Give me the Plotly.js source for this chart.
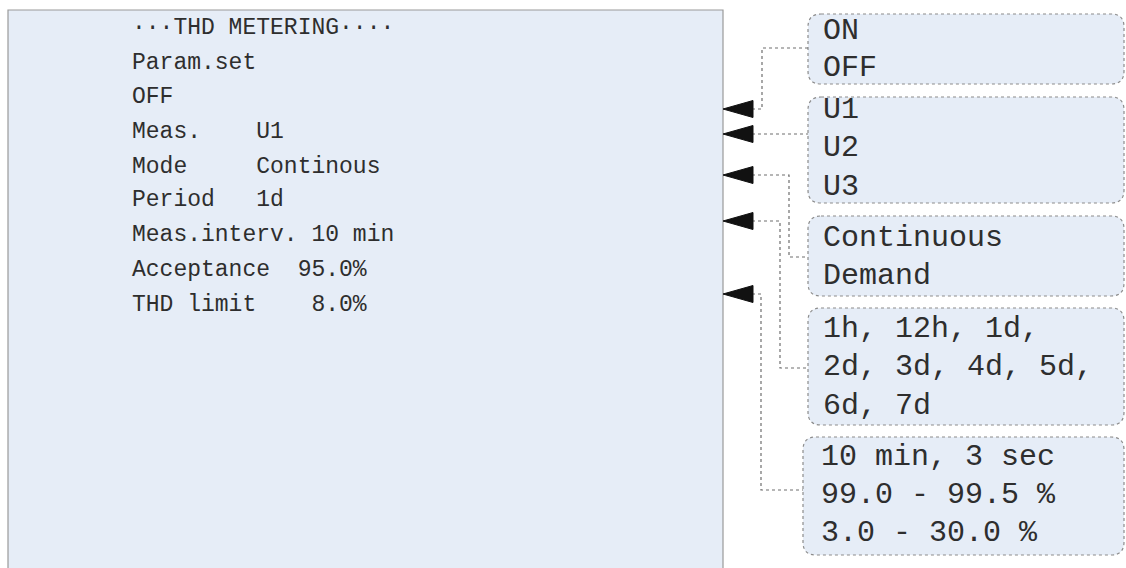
<!DOCTYPE html>
<html>
<head>
<meta charset="utf-8">
<script src="https://cdn.plot.ly/plotly-3.0.1.min.js"></script>
<style>html,body{margin:0;padding:0;background:#fff}#chart{width:1126px;height:568px}</style>
</head>
<body>
<div id="chart"></div>
<script>
// ---- content (text of the diagram) ----
const menuLines = [
  "\u00b7\u00b7\u00b7THD METERING\u00b7\u00b7\u00b7\u00b7",
  "Param.set",
  "OFF",
  "Meas.    U1",
  "Mode     Continous",
  "Period   1d",
  "Meas.interv. 10 min",
  "Acceptance  95.0%",
  "THD limit    8.0%"
];
const paramSetOptions = ["ON", "OFF"];
const measOptions = ["U1", "U2", "U3"];
const modeOptions = ["Continuous", "Demand"];
const periodOptions = ["1h, 12h, 1d,", "2d, 3d, 4d, 5d,", "6d, 7d"];
const limitOptions = ["10 min, 3 sec", "99.0 - 99.5 %", "3.0 - 30.0 %"];

// ---- layout geometry (pixels, y downward) ----
const W = 1126, H = 568;
const leftX = 130, leftY = [28, 63, 97, 132, 167, 200, 235, 270, 305];
const boxes = [
  {opts: paramSetOptions, x0: 808, y0: 14,  y1: 84,  tx: 821, ty: [31, 68]},
  {opts: measOptions,     x0: 808, y0: 97,  y1: 203, tx: 821, ty: [110, 148, 187]},
  {opts: modeOptions,     x0: 808, y0: 216, y1: 296, tx: 821, ty: [238, 276]},
  {opts: periodOptions,   x0: 808, y0: 308, y1: 425, tx: 821, ty: [329, 367, 406]},
  {opts: limitOptions,    x0: 803, y0: 437, y1: 555, tx: 819, ty: [457, 495, 533]}
];
const boxRight = 1124;
// connectors: arrow y, vertical x, box-side y, box x
const links = [
  {ay: 109, vx: 762, by: 48,  bx: 808},
  {ay: 134, vx: 780, by: 134, bx: 808},
  {ay: 175, vx: 789, by: 257, bx: 808},
  {ay: 221, vx: 780, by: 368, bx: 808},
  {ay: 294, vx: 761, by: 490, bx: 803}
];

function rr(x0, y0, x1, y1, r) {
  return `M${x0+r},${y0} L${x1-r},${y0} Q${x1},${y0} ${x1},${y0+r} L${x1},${y1-r} Q${x1},${y1} ${x1-r},${y1} ` +
         `L${x0+r},${y1} Q${x0},${y1} ${x0},${y1-r} L${x0},${y0+r} Q${x0},${y0} ${x0+r},${y0} Z`;
}

const shapes = [];
const annotations = [];
// main panel
shapes.push({type: 'rect', xref: 'x', yref: 'y', x0: 8, x1: 723, y0: 10, y1: H + 5,
  fillcolor: '#e6edf7', line: {color: '#9a9a9a', width: 1.2}, layer: 'below'});
menuLines.forEach((t, i) => {
  annotations.push({x: leftX, y: leftY[i], xref: 'x', yref: 'y', xanchor: 'left', yanchor: 'middle',
    text: t.replace(/ /g, '\u00a0'), showarrow: false,
    font: {family: 'Liberation Mono, monospace', size: 23, color: '#2e2e2e'}});
});
// option boxes
boxes.forEach(b => {
  shapes.push({type: 'path', xref: 'x', yref: 'y', path: rr(b.x0, b.y0, boxRight, b.y1, 13),
    fillcolor: '#e6edf7', line: {color: '#8c8c8c', width: 1.2, dash: 'dot'}, layer: 'below'});
  b.opts.forEach((t, i) => {
    annotations.push({x: b.tx, y: b.ty[i], xref: 'x', yref: 'y', xanchor: 'left', yanchor: 'middle',
      text: t.replace(/ /g, '\u00a0'), showarrow: false,
      font: {family: 'Liberation Mono, monospace', size: 30, color: '#2e2e2e'}});
  });
});
// connectors and arrowheads
links.forEach(l => {
  const p = (l.ay === l.by) ? `M752,${l.ay} L${l.bx},${l.by}`
    : `M752,${l.ay} L${l.vx},${l.ay} L${l.vx},${l.by} L${l.bx},${l.by}`;
  shapes.push({type: 'path', xref: 'x', yref: 'y', path: p,
    line: {color: '#6e6e6e', width: 1.2, dash: 'dot'}});
  shapes.push({type: 'path', xref: 'x', yref: 'y', path: `M723,${l.ay} L753,${l.ay-8.5} L753,${l.ay+8.5} Z`,
    fillcolor: '#111', line: {color: '#111', width: 1}});
});

const layout = {
  width: W, height: H,
  margin: {l: 0, r: 0, t: 0, b: 0},
  paper_bgcolor: '#ffffff', plot_bgcolor: '#ffffff',
  xaxis: {range: [0, W], visible: false, fixedrange: true},
  yaxis: {range: [H, 0], visible: false, fixedrange: true},
  shapes: shapes, annotations: annotations, showlegend: false
};
Plotly.newPlot('chart', [], layout, {displayModeBar: false, staticPlot: true});
</script>
</body>
</html>
